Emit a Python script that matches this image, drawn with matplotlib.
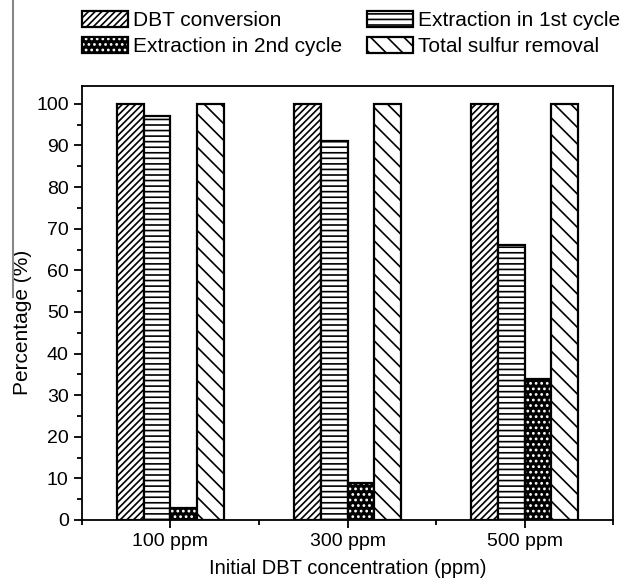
import matplotlib
matplotlib.use("Agg")
import matplotlib.pyplot as plt
from matplotlib.patches import Patch
from matplotlib.legend_handler import HandlerTuple
from matplotlib.lines import Line2D
import numpy as np

plt.rcParams['font.family'] = ['Liberation Sans', 'DejaVu Sans']
plt.rcParams['hatch.linewidth'] = 1.2

# data
groups = ['100 ppm', '300 ppm', '500 ppm']
dbt_conversion = [100, 100, 100]
extraction_1st = [97, 91, 66]
extraction_2nd = [3, 9, 34]
total_removal = [100, 100, 100]

series_labels = ['DBT conversion', 'Extraction in 1st cycle',
                 'Extraction in 2nd cycle', 'Total sulfur removal']

fig = plt.figure(figsize=(6.2, 5.81), dpi=100)
ax = fig.add_axes([0.132, 0.105, 0.857, 0.747])

x = np.arange(1, len(groups) + 1)
w = 0.15
lw = 1.6

ax.bar(x - 1.5*w, dbt_conversion, w, facecolor='white', edgecolor='black',
       hatch='/////', linewidth=lw)
ax.bar(x - 0.5*w, extraction_1st, w, facecolor='white', edgecolor='black',
       hatch='---', linewidth=lw)
# dark bars with white dots: fill+dots first, then the black outline
ax.bar(x + 0.5*w, extraction_2nd, w, facecolor='black', edgecolor='white',
       hatch='...', linewidth=0)
ax.bar(x + 0.5*w, extraction_2nd, w, facecolor='none', edgecolor='black',
       linewidth=lw)
ax.bar(x + 1.5*w, total_removal, w, facecolor='white', edgecolor='black',
       hatch='\\\\', linewidth=lw)

ax.set_xlim(0.5, 3.5)
ax.set_ylim(0, 104.3)
ax.set_xticks(x)
ax.set_xticklabels(groups)
ax.set_xticks([0.5, 1.5, 2.5, 3.5], minor=True)
ax.set_yticks(np.arange(0, 101, 10))
ax.set_yticks(np.arange(5, 100, 10), minor=True)
ax.tick_params(axis='both', which='major', direction='out', length=6, width=1.3,
               labelsize=14, top=False, right=False)
ax.tick_params(axis='both', which='minor', direction='out', length=3.5, width=1.3,
               top=False, right=False)
for s in ax.spines.values():
    s.set_linewidth(1.3)

ax.set_xlabel('Initial DBT concentration (ppm)', fontsize=14.5, labelpad=6)
ax.set_ylabel('Percentage (%)', fontsize=15)
ax.yaxis.set_label_coords(-0.094, 0.456)

# legend handles built to look like the bars
h1 = Patch(facecolor='white', edgecolor='black', hatch='/////', linewidth=lw)
h2 = Patch(facecolor='white', edgecolor='black', hatch='---', linewidth=lw)
h3 = (Patch(facecolor='black', edgecolor='white', hatch='...', linewidth=0),
      Patch(facecolor='none', edgecolor='black', linewidth=lw))
h4 = Patch(facecolor='white', edgecolor='black', hatch='\\\\', linewidth=lw)

# legend fills column-wise, so order the entries to get the reference rows
handles = [h1, h3, h2, h4]
labels = [series_labels[0], series_labels[2], series_labels[1], series_labels[3]]
fig.legend(handles, labels, ncol=2, frameon=False,
           loc='upper left', bbox_to_anchor=(0.119, 0.996), borderaxespad=0,
           fontsize=15, handlelength=2.2, handleheight=0.8,
           handletextpad=0.25, columnspacing=1.2, labelspacing=0.35,
           handler_map={tuple: HandlerTuple(ndivide=1, pad=0)})

# grey scan line at the left edge of the page
fig.add_artist(Line2D([13/620, 13/620], [1.0, 1 - 297/581],
                      transform=fig.transFigure, color='#888888', linewidth=1.5))

fig.savefig('out.png', dpi=100)
